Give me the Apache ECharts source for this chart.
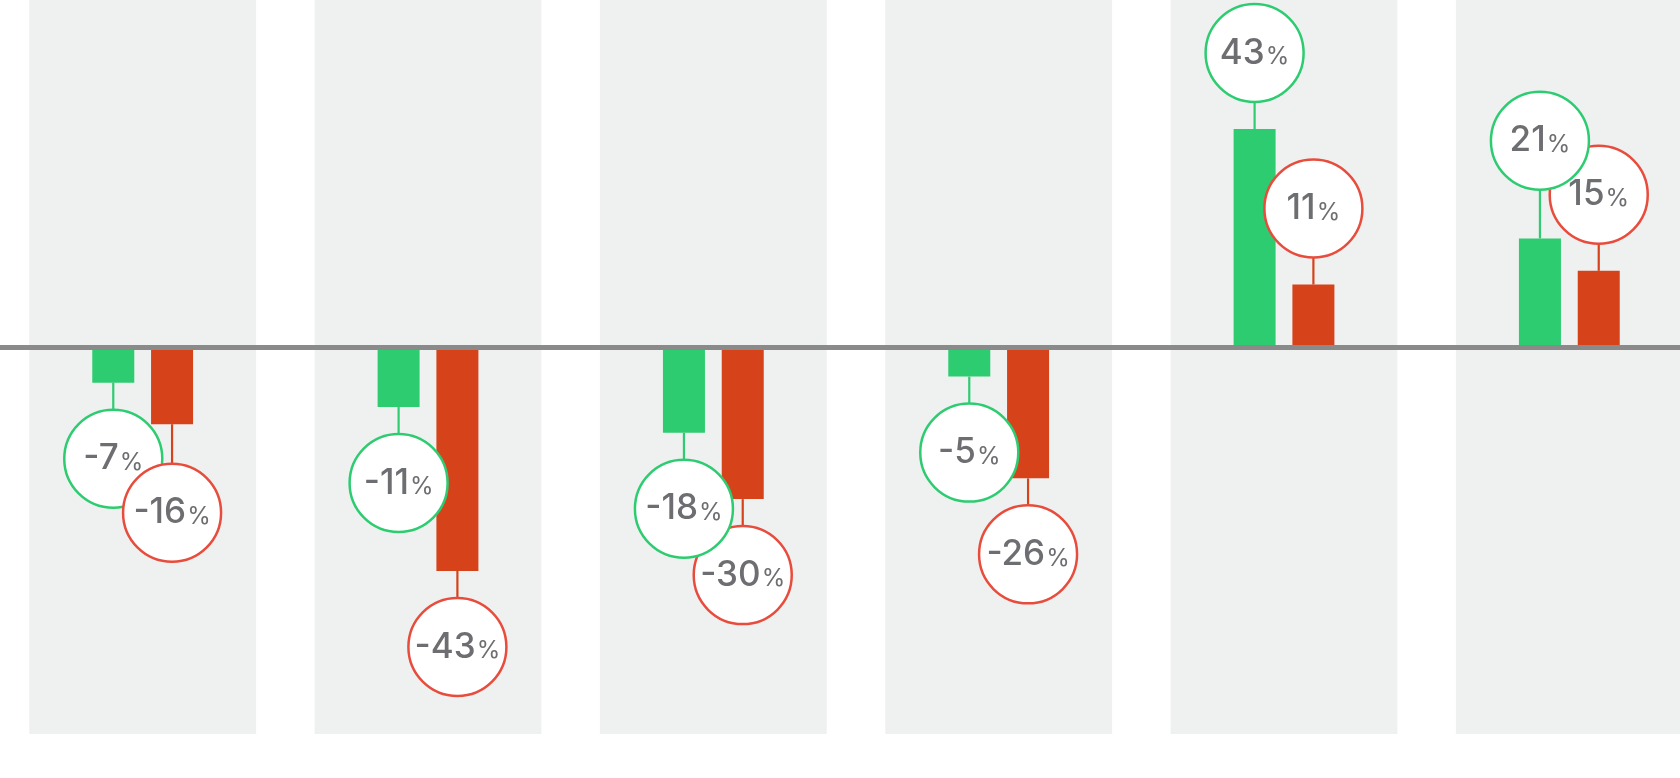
<!DOCTYPE html>
<head>
    <meta charset="utf-8">
    <title>ECharts</title>
    <script type="text/javascript" src="https://cdn.jsdelivr.net/npm/echarts@6/dist/echarts.min.js"></script>
    <style>
        html, body { margin: 0; padding: 0; background: #fff; }
    </style>
</head>

<body>
<div id="main" style="width:1680px;height:778px"></div>

<script type="text/javascript">
    // categories (no visible names in the picture)
    var categories = ['A', 'B', 'C', 'D', 'E', 'F'];
    // bar values
    var greenValues = [-7.1, -11.9, -17.0, -5.9, 43, 21.4];
    var redValues = [-15.3, -44.3, -30.1, -26.0, 12.3, 15.0];
    // texts shown in the bubbles
    var greenLabels = ['-7', '-11', '-18', '-5', '43', '21'];
    var redLabels = ['-16', '-43', '-30', '-26', '11', '15'];

    var GREEN = '#2ecc71';
    var RED_BAR = '#d6421a';
    var RED_RING = '#e74c3c';
    var BAR_W = 42;
    var BAR_SHIFT = 29.4;   // half bar + half gap
    var GAP = 76;           // bar end -> bubble center
    var MINSEP = 54;        // min vertical distance between two bubbles
    var R = 49;

    var bubbleData = [];
    var bandData = [];
    for (var i = 0; i < categories.length; i++) {
        bubbleData.push([i, greenValues[i], redValues[i]]);
        bandData.push(0);
    }

    var rich = {
        n: { fontSize: 35, lineHeight: 42, fill: '#6d6e71', fontFamily: 'Inter', fontWeight: 500 },
        p: { fontSize: 24, lineHeight: 42, fill: '#6d6e71', fontFamily: 'Inter', fontWeight: 400,
             padding: [8, 0, 0, 1] }
    };

    function bubble(x, y, ring, txt) {
        return [
            { type: 'circle', shape: { cx: x, cy: y, r: R },
              style: { fill: '#fff', stroke: ring, lineWidth: 2.5 } },
            { type: 'text', x: x, y: y,
              style: { text: '{n|' + txt + '}{p|%}', rich: rich, fill: '#6d6e71',
                       align: 'center', verticalAlign: 'middle' } }
        ];
    }

    function renderBubbles(params, api) {
        var idx = params.dataIndex;
        var g = api.value(1), r = api.value(2);
        var cx = api.coord([api.value(0), 0])[0];
        var gx = cx - BAR_SHIFT, rx = cx + BAR_SHIFT;
        var gy = api.coord([api.value(0), g])[1];
        var ry = api.coord([api.value(0), r])[1];
        var gd = g < 0 ? 1 : -1, rd = r < 0 ? 1 : -1;
        var gc = gy + gd * GAP, rc = ry + rd * GAP;
        var greenTop = true;
        if (gd === rd && Math.abs(gc - rc) < MINSEP) {
            if (Math.abs(g) > Math.abs(r)) { gc = rc + gd * MINSEP; greenTop = true; }
            else { rc = gc + rd * MINSEP; greenTop = false; }
        }
        var lines = [
            { type: 'line', shape: { x1: gx, y1: gy, x2: gx, y2: gc }, style: { stroke: GREEN, lineWidth: 2.2 } },
            { type: 'line', shape: { x1: rx, y1: ry, x2: rx, y2: rc }, style: { stroke: RED_BAR, lineWidth: 2.2 } }
        ];
        var gb = bubble(gx, gc, GREEN, greenLabels[idx]);
        var rb = bubble(rx, rc, RED_RING, redLabels[idx]);
        var children = greenTop ? lines.concat(rb, gb) : lines.concat(gb, rb);
        return { type: 'group', children: children };
    }

    var myChart = echarts.init(document.getElementById('main'));
    var option = {
        animation: false,
        grid: { left: 0, top: 0, bottom: 44, width: 1712, outerBoundsMode: 'none', containLabel: false },
        xAxis: [
            {
                type: 'category',
                data: categories,
                z: 5,
                axisLine: { show: true, onZero: true, lineStyle: { color: '#8a8a8a', width: 5 } },
                axisTick: { show: false },
                axisLabel: { show: false },
                splitLine: { show: false }
            },
            {
                type: 'category',
                data: categories,
                show: false
            }
        ],
        yAxis: {
            type: 'value',
            min: -76.5,
            max: 68.5,
            show: false,
            splitLine: { show: false }
        },
        series: [
            {
                // grey column bands
                type: 'bar',
                xAxisIndex: 1,
                data: bandData,
                barWidth: '79.5%',
                itemStyle: { color: 'rgba(0,0,0,0)' },
                showBackground: true,
                backgroundStyle: { color: '#eff1f0' },
                silent: true
            },
            {
                type: 'bar',
                data: greenValues,
                barWidth: BAR_W,
                barGap: '40%',
                itemStyle: { color: GREEN }
            },
            {
                type: 'bar',
                data: redValues,
                barWidth: BAR_W,
                barGap: '40%',
                itemStyle: { color: RED_BAR }
            },
            {
                type: 'custom',
                data: bubbleData,
                encode: { x: 0, y: [1, 2] },
                renderItem: renderBubbles,
                z: 10
            }
        ]
    };
    myChart.setOption(option);
</script>
</body>
